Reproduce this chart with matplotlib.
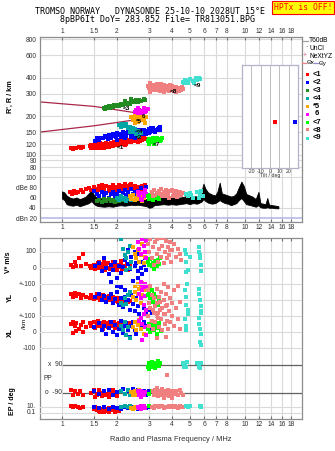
import matplotlib
matplotlib.use("Agg")
import matplotlib.pyplot as plt
from matplotlib.lines import Line2D
from matplotlib.ticker import FixedLocator, NullLocator, FixedFormatter

plt.rcParams['font.family'] = ['Liberation Sans', 'DejaVu Sans']

# ---------------- data ----------------
FREQ_TICKS = [1, 1.5, 2, 3, 4, 5, 6, 7, 8, 10, 12, 14, 16, 18]
FREQ_LABELS = ["1", "1.5", "2", "3", "4", "5", "6", "7", "8", "10", "12", "14", "16", "18"]
HEIGHT_TICKS = [80, 90, 100, 120, 150, 200, 300, 400, 600, 800]
DB_TICKS = [100, 80, 60, 40, 20]
DB_LABELS = ["100", "dBe 80", "60", "40", "dBn 20"]
TILT_TICKS = [-20, -10, 0, 10, 20]
COLORS = ['#ff0000', '#0000ff', '#228b22', '#00a6a6', '#ffa500',
          '#ff00ff', '#00ff00', '#f08080', '#40e0d0']
LEGEND_LABELS = ["<1", "<2", "<3", "<4", "*5", " 6", "<7", "<8", "<9"]

# model lines (freq MHz, height km)
MODEL_UPPER = [(0.758, 258), (1.5, 238), (2.6, 211)]
MODEL_LOWER = [(0.758, 150), (1.5, 168), (2.45, 186)]

# cluster label positions (freq, height)
LABEL_POS = [(2.08, 113), (2.62, 136), (2.25, 228), (2.65, 152), (2.65, 183),
             (2.8, 200), (3.3, 120), (4.05, 312), (5.5, 345)]

# tilt (deg, height km, cluster index)
TILT = [(5, 180, 0), (27, 180, 1)]

# --- heights (freq, km)
C1_H = [(1.12,112),(1.15,111),(1.18,113),(1.2,112),(1.24,114),(1.27,113),(1.3,115),
        (1.42,116),(1.45,113),(1.48,119),(1.5,115),(1.52,121),(1.55,117),(1.58,113),(1.6,119),
        (1.62,123),(1.65,116),(1.68,114),(1.7,120),(1.72,118),(1.75,124),(1.78,115),(1.8,119),
        (1.83,122),(1.86,117),(1.9,121),(1.93,125),(1.96,118),(2.0,123),(2.03,127),(2.06,120),
        (2.1,125),(2.14,129),(2.18,123),(2.22,127),(2.26,131),(2.3,125),(2.35,129),(2.4,133),
        (2.45,127),(2.5,131),(2.55,134),(2.6,129),(2.65,133),(2.7,136),(2.75,130),(2.8,134),
        (2.85,132),(1.5,112),(1.6,114),(1.7,113),(1.8,114),(1.9,116),(2.0,118),(1.55,122),
        (1.65,121),(1.75,120),(1.85,124),(1.95,126),(2.1,121),(2.2,124),(2.3,128),(2.4,127),
        (2.5,128),(2.2,119),(2.6,126),(1.62,117),(1.72,116),(1.82,118),(1.92,119),
        (1.44,118),(1.47,116),(1.53,114),(1.57,120),(1.63,112),(1.67,119),(1.73,122),(1.77,117),
        (1.87,120),(1.97,122),(2.02,119),(2.08,124),(2.12,127),(2.16,126),(2.24,122),(2.28,129),
        (2.33,131),(2.38,126),(2.43,130),(2.48,133),(2.53,127),(2.58,132),(2.63,130),(2.68,128),
        (2.72,134),(2.78,132)]
C2_H = [(1.52,128),(1.55,134),(1.6,131),(1.68,136),(1.75,138),(1.8,142),(1.85,136),(1.9,145),
        (1.95,140),(2.0,148),(2.05,143),(2.1,138),(2.15,150),(2.2,145),(2.25,141),(2.3,152),
        (2.35,147),(2.4,140),(2.45,150),(2.5,144),(2.55,155),(2.6,148),(2.65,142),(2.7,152),
        (2.75,146),(2.8,156),(2.85,150),(2.9,145),(2.95,153),(3.0,158),(3.05,149),(3.1,155),
        (3.15,160),(3.2,152),(3.3,157),(3.4,162),(3.45,155),(2.4,137),(2.5,136),(2.6,139),
        (2.2,134),(2.0,131),(1.62,135),(1.72,140),(1.78,133),(1.88,141),(1.98,137),(2.08,146),
        (2.18,140),(2.28,147),(2.38,144),(2.48,153),(2.58,146),(2.68,157),(2.78,149),(2.88,154),
        (2.98,147),(3.08,160),(3.18,156),(3.25,150),(3.35,159),(3.42,165)]
C3_H = [(1.7,232),(1.72,228),(1.75,235),(1.78,230),(1.8,238),(1.83,233),(1.86,240),(1.9,236),
        (1.93,243),(1.96,238),(2.0,245),(2.05,241),(2.1,248),(2.15,244),(2.2,252),(2.25,247),
        (2.3,255),(2.35,250),(2.4,258),(2.45,262),(2.5,256),(2.55,265),(2.6,259),(2.65,268),
        (2.7,262),(2.8,272),(2.85,266),(2.2,262),(2.4,270)]
C4_H = [(2.05,170),(2.1,165),(2.12,175),(2.18,168),(2.25,172),(2.3,160),(2.35,165),(2.4,155),
        (2.45,150),(2.5,158),(2.55,146),(2.6,152),(2.65,140),(2.7,148),(2.35,150),(2.45,162)]
C5_H = [(2.4,195),(2.45,185),(2.5,200),(2.55,190),(2.6,180),(2.65,195),(2.7,185),(2.75,200),
        (2.8,190),(2.85,178),(2.9,195),(2.5,178),(2.6,205)]
C6_H = [(2.5,215),(2.55,222),(2.6,212),(2.65,225),(2.7,218),(2.75,210),(2.8,225),(2.85,215),
        (2.9,220),(2.95,228),(2.6,230),(2.8,232)]
C7_H = [(2.95,128),(3.0,132),(3.05,125),(3.1,130),(3.15,134),(3.2,127),(3.25,131),(3.3,136),
        (3.35,129),(3.4,133),(3.45,127),(3.5,131),(3.55,135),(3.0,122),(3.2,121)]
C8_H = [(2.95,345),(3.0,330),(3.05,360),(3.1,340),(3.15,325),(3.2,350),(3.25,335),(3.3,320),
        (3.35,345),(3.4,330),(3.45,315),(3.5,340),(3.55,325),(3.6,350),(3.65,335),(3.7,318),
        (3.75,340),(3.8,328),(3.85,312),(3.9,335),(3.95,322),(4.0,345),(4.05,330),(4.1,315),
        (4.2,338),(4.3,322),(4.4,332),(4.5,318),(4.6,328),(3.05,310),(3.3,355),(3.6,310),
        (3.9,352),(4.2,310),(3.02,350),(3.12,332),(3.22,340),(3.32,330),(3.42,348),(3.52,322),
        (3.62,338),(3.72,345),(3.82,318),(3.92,326),(4.02,338),(4.12,325),(4.25,330),(4.35,316),
        (4.45,325),(4.55,335),(3.18,318),(3.48,355)]
C9_H = [(4.6,372),(4.7,385),(4.8,378),(4.9,365),(5.0,390),(5.2,375),(5.4,395),(5.5,380),
        (5.6,400),(5.7,388),(4.65,360),(5.3,362)]

# --- echo amplitude (freq, dB)
C1_DB = [(1.1,70),(1.13,67),(1.16,72),(1.2,68),(1.23,71),(1.27,74),(1.3,70),(1.35,76),(1.4,78),
         (1.45,74),(1.5,80),(1.55,77),(1.6,82),(1.65,79),(1.7,75),(1.75,83),(1.8,80),(1.85,77),
         (1.9,84),(1.95,81),(2.0,78),(2.05,85),(2.1,82),(2.15,79),(2.2,86),(2.25,83),(2.3,80),
         (2.35,84),(2.4,81),(2.45,78),(2.5,82),(2.55,79),(2.6,76),(2.65,80),(2.7,77),(2.75,82),
         (2.8,79),(2.85,84),(1.6,74),(1.7,72),(1.8,73),(1.9,76),(2.0,72),(2.1,75),(2.2,77),
         (2.3,73),(2.5,74),(1.55,71),(1.65,85),(2.4,86)]
C2_DB = [(1.5,72),(1.55,66),(1.6,62),(1.65,70),(1.7,64),(1.75,68),(1.8,60),(1.85,66),(1.9,70),
         (1.95,63),(2.0,67),(2.05,72),(2.1,61),(2.15,68),(2.2,74),(2.25,65),(2.3,70),(2.35,62),
         (2.4,76),(2.45,67),(2.5,71),(2.55,64),(2.6,73),(2.65,66),(2.7,78),(2.75,69),(2.8,63),
         (2.85,72),(2.9,80)]
C3_DB = [(1.6,55),(1.65,52),(1.7,57),(1.75,53),(1.8,58),(1.85,54),(1.9,56),(1.95,51),(2.0,57),
         (2.05,53),(2.1,59),(2.15,55),(1.55,53)]
C4_DB = [(2.0,60),(2.05,55),(2.1,62),(2.15,57),(2.2,60),(2.25,54),(2.3,58),(2.35,62),(2.4,56)]
C5_DB = [(2.35,62),(2.4,58),(2.45,64),(2.5,55),(2.55,60),(2.6,66),(2.65,57),(2.7,62),(2.75,54),(2.8,59)]
C6_DB = [(2.6,70),(2.65,64),(2.7,58),(2.75,68),(2.8,62),(2.85,74),(2.75,55),(2.9,66)]
C7_DB = [(2.95,62),(3.0,58),(3.05,65),(3.1,60),(3.15,56),(3.2,63),(3.25,59),(3.3,66),(3.35,61),(3.4,57)]
C8_DB = [(3.1,70),(3.2,74),(3.3,68),(3.4,72),(3.5,76),(3.6,70),(3.7,74),(3.8,66),(3.9,72),(4.0,75),
         (4.1,69),(4.2,73),(4.3,67),(4.4,71),(4.5,64),(4.6,68),(3.25,64),(3.45,66),(3.65,62),
         (3.85,60),(4.05,63),(4.25,61),(3.15,62),(3.55,63)]
C9_DB = [(4.8,66),(4.9,62),(5.0,68),(5.1,64),(5.2,60),(5.5,70),(5.7,66),(5.8,72),(5.9,63),(5.6,60)]

# unclassified amplitude band (freq, low dB, high dB)
BAND_F = [1.0,1.03,1.06,1.1,1.15,1.2,1.25,1.3,1.35,1.4,1.45,1.5,1.55,1.6,1.7,1.8,1.9,2.0,2.1,2.2,
          2.3,2.4,2.5,2.6,2.7,2.8,2.9,3.0,3.1,3.2,3.4,3.6,3.8,4.0,4.2,4.4,4.6,4.8,5.0,5.2,5.5,5.8,
          5.95,6.1,6.3,6.6,6.9,7.1,7.3,7.5,7.8,8.1,8.4,8.7,9.0,9.3,9.6,9.9,10.2,10.5,11.0,11.5,
          11.9,12.2,12.6,13.0,13.3,13.6,14.2,14.8,15.3]
BAND_LO = [58,55,47,45,44,46,43,45,47,49,53,47,44,43,42,43,42,44,45,44,
           45,46,45,46,45,44,43,40,41,45,46,47,46,47,46,47,48,49,47,49,48,52,
           57,53,50,48,49,52,55,52,49,48,45,47,49,55,59,53,47,46,44,42,
           45,41,40,40,41,40,40,39,39]
BAND_HI = [72,70,64,60,58,60,57,59,62,68,74,64,60,59,58,59,57,59,60,59,
           60,60,59,60,59,58,57,54,55,59,60,60,59,60,59,60,61,63,61,63,62,72,
           87,77,70,66,64,72,89,68,66,64,62,63,68,80,91,82,67,65,62,57,
           71,49,48,47,59,46,45,44,43]

# --- V* (freq, m/s)
C1_V = [(1.12,20),(1.15,5),(1.18,40),(1.2,10),(1.24,60),(1.27,15),(1.3,90),(1.35,25),(1.42,10),
        (1.45,0),(1.5,20),(1.52,-5),(1.55,15),(1.58,30),(1.6,0),(1.62,12),(1.65,-8),(1.68,22),
        (1.7,5),(1.72,-10),(1.75,18),(1.78,30),(1.8,2),(1.83,-5),(1.86,15),(1.9,25),(1.93,0),
        (1.96,10),(2.0,-12),(2.03,20),(2.06,5),(2.1,30),(2.14,-5),(2.18,15),(2.22,0),(2.26,25),
        (2.3,-10),(2.35,10),(2.1,45),(1.9,40),(1.6,35),(1.7,45)]
C2_V = [(1.52,10),(1.6,30),(1.65,-20),(1.7,60),(1.75,0),(1.8,-40),(1.85,20),(1.9,-10),(1.95,40),
        (2.0,-60),(2.05,15),(2.1,-30),(2.15,5),(2.2,50),(2.25,-15),(2.3,25),(2.35,-5),(2.4,70),
        (2.45,-80),(2.5,10),(2.55,30),(2.6,-20),(2.65,90),(2.7,0),(2.75,-40),(2.8,20),(2.85,60),
        (2.9,-10),(2.0,-110),(2.1,-120),(1.85,-90),(2.3,110),(2.5,100),(2.6,-60),(2.7,40)]
C3_V = []
C4_V = [(2.1,180),(2.15,120),(2.2,80),(2.25,60),(2.3,100),(2.35,140),(2.4,40),(2.25,-10),(2.35,0)]
C5_V = [(2.45,130),(2.5,90),(2.55,60),(2.6,110),(2.65,40),(2.7,80),(2.75,150),(2.8,30),(2.6,-100),
        (2.7,-120),(2.75,-95),(2.5,-110),(2.85,70)]
C6_V = [(2.6,160),(2.65,120),(2.7,90),(2.75,180),(2.8,140),(2.85,100),(2.9,60),(2.7,-90),
        (2.75,-110),(2.8,-130),(2.85,-100),(2.9,170)]
C7_V = [(2.95,40),(3.0,20),(3.05,55),(3.1,10),(3.15,30),(3.2,-5),(3.25,45),(3.3,15),(3.35,50),
        (3.4,25),(3.45,60),(3.1,65)]
C8_V = [(2.95,150),(3.0,100),(3.05,180),(3.1,60),(3.15,130),(3.2,20),(3.25,160),(3.3,90),(3.35,40),
        (3.4,120),(3.45,190),(3.5,70),(3.55,140),(3.6,30),(3.65,100),(3.7,170),(3.75,60),(3.8,130),
        (3.85,80),(3.9,160),(3.95,40),(4.0,110),(4.1,150),(4.2,70),(4.3,120),(4.4,90),(4.5,50),
        (3.3,180),(3.6,190),(3.9,110)]
C9_V = [(4.7,110),(4.75,90),(4.8,40),(4.9,-10),(5.0,70),(5.6,130),(5.65,100),(5.7,60),(5.75,20),
        (5.8,-20),(5.7,80),(4.75,-25)]

# --- YL (freq, km)
C1_YL = [(1.12,35),(1.15,20),(1.18,45),(1.2,25),(1.24,40),(1.27,10),(1.3,30),(1.35,20),(1.42,15),
         (1.45,30),(1.5,5),(1.52,20),(1.55,35),(1.58,10),(1.6,25),(1.62,0),(1.65,15),(1.68,30),
         (1.7,5),(1.72,20),(1.75,-5),(1.78,15),(1.8,25),(1.83,0),(1.86,10),(1.9,20),(1.93,-5),
         (1.96,5),(2.0,15),(2.03,-10),(2.06,0),(2.1,10),(2.14,-5),(2.18,5),(2.22,-10),(2.26,0),
         (2.3,-15),(2.35,-5)]
C2_YL = [(1.52,20),(1.6,40),(1.65,0),(1.7,25),(1.75,-10),(1.8,15),(1.85,35),(1.9,-20),(1.95,5),
         (2.0,50),(2.05,-30),(2.1,10),(2.15,-45),(2.2,20),(2.25,-15),(2.3,0),(2.35,-60),(2.4,30),
         (2.45,-25),(2.5,-70),(2.55,10),(2.6,-40),(2.65,-85),(2.7,-20),(2.8,-50),(2.9,-75),
         (3.0,-60),(3.1,-80),(2.2,65)]
C3_YL = []
C4_YL = [(2.1,-20),(2.15,-30),(2.2,10),(2.25,-25),(2.3,30),(2.35,50)]
C5_YL = [(2.45,20),(2.5,50),(2.55,0),(2.6,40),(2.65,70),(2.7,-20),(2.75,30),(2.8,60)]
C6_YL = [(2.65,40),(2.7,10),(2.75,60),(2.8,-30),(2.85,25),(2.9,-60),(2.9,80)]
C7_YL = [(2.95,30),(3.0,50),(3.05,10),(3.1,60),(3.15,-10),(3.2,40),(3.3,20),(3.35,-30),(3.4,5)]
C8_YL = [(2.95,60),(3.0,-20),(3.05,90),(3.1,30),(3.15,-60),(3.2,10),(3.25,-40),(3.3,70),(3.35,-80),
         (3.4,20),(3.45,-10),(3.5,50),(3.55,-50),(3.6,0),(3.65,-90),(3.7,40),(3.75,-30),(3.8,80),
         (3.85,-70),(3.9,15),(4.0,-20),(4.1,60),(4.2,-50),(4.3,90),(4.4,-10),(3.3,-100),(3.6,100)]
C9_YL = [(4.7,60),(4.75,20),(4.8,-30),(4.9,-60),(5.6,70),(5.65,40),(5.7,0),(5.75,-40),(5.8,-70),(4.85,100)]

# --- XL (freq, km)
C1_XL = [(1.12,50),(1.15,65),(1.18,35),(1.2,55),(1.24,20),(1.27,45),(1.3,60),(1.35,30),(1.42,55),
         (1.45,40),(1.5,65),(1.52,25),(1.55,50),(1.58,70),(1.6,35),(1.62,55),(1.65,45),(1.68,20),
         (1.7,60),(1.72,40),(1.75,55),(1.78,30),(1.8,50),(1.83,65),(1.86,35),(1.9,45),(1.93,60),
         (1.96,25),(2.0,50),(2.03,40),(2.06,55),(2.1,30),(2.14,45),(2.18,60),(2.22,35),(2.26,50),
         (2.3,40),(2.35,55),(1.15,-5),(1.2,5),(1.3,0)]
C2_XL = [(1.5,30),(1.6,55),(1.65,10),(1.7,40),(1.75,-10),(1.8,25),(1.85,60),(1.9,0),(1.95,45),
         (2.0,-20),(2.05,20),(2.1,70),(2.15,-5),(2.2,35),(2.25,55),(2.3,10),(2.35,-30),(2.4,40),
         (2.45,65),(2.5,15),(2.55,-15),(2.6,50),(2.7,25),(2.8,60),(2.9,35),(3.0,20),(3.1,45)]
C3_XL = []
C4_XL = [(2.1,40),(2.15,10),(2.2,60),(2.25,-20),(2.3,30),(2.35,-40)]
C5_XL = [(2.45,30),(2.5,60),(2.55,10),(2.6,45),(2.65,75),(2.7,20),(2.75,50),(2.8,-10)]
C6_XL = [(2.65,70),(2.7,90),(2.75,50),(2.8,110),(2.85,30),(2.9,-20),(2.75,-50)]
C7_XL = [(2.95,20),(3.0,50),(3.05,0),(3.1,35),(3.15,65),(3.2,10),(3.25,40),(3.3,-10),(3.35,25),
         (3.4,55),(3.5,5)]
C8_XL = [(2.95,100),(3.0,40),(3.05,150),(3.1,70),(3.15,20),(3.2,120),(3.25,60),(3.3,180),(3.35,90),
         (3.4,30),(3.45,140),(3.5,80),(3.55,10),(3.6,110),(3.65,50),(3.7,160),(3.75,70),(3.8,20),
         (3.85,130),(3.9,60),(4.0,100),(4.1,40),(4.2,150),(4.3,80),(4.4,20),(3.3,-40),(3.7,-30)]
C9_XL = [(4.7,80),(4.75,40),(4.8,10),(4.9,110),(5.6,90),(5.65,50),(5.7,20),(5.75,-10),(5.8,120),
         (5.7,-60),(5.75,-80)]

# --- PP polarization (freq, deg)
C1_PP = [(1.12,-70),(1.15,-100),(1.18,-80),(1.22,-95),(1.26,-75),(1.3,-105),(1.45,-90),(1.5,-70),
         (1.55,-100),(1.6,-85),(1.65,-110),(1.7,-75),(1.75,-95),(1.8,-115),(1.85,-80),(1.9,-100),
         (1.95,-90),(2.0,-110),(1.6,-70),(1.7,-105),(1.8,-90),(1.9,-70),(1.52,-115),(1.58,-95),
         (1.68,-90),(1.78,-100)]
C2_PP = [(1.5,-75),(1.6,-95),(1.7,-80),(1.8,-70),(1.9,-100),(2.0,-85),(2.1,-75),(2.2,-95),(2.3,-80),
         (2.4,-105),(2.5,-85),(2.6,-70),(2.7,-95),(2.8,-80),(2.9,-100),(3.0,-75),(2.15,-65),(2.45,-65)]
C3_PP = []
C4_PP = [(2.1,-80),(2.2,-95),(2.3,-70),(2.35,-100)]
C5_PP = [(2.4,-85),(2.5,-75),(2.55,-100),(2.6,-90),(2.65,-70),(2.45,-105)]
C6_PP = [(2.6,-80),(2.65,-100),(2.7,-75),(2.75,-90),(2.8,-105),(2.85,-85),(2.7,-115)]
C7_PP = [(2.95,80),(3.0,100),(3.05,75),(3.1,110),(3.15,90),(3.2,105),(3.25,70),(3.3,95),(3.35,115),
         (3.4,85),(3.45,100),(3.0,65),(3.2,80),(3.0,-95),(3.1,-80)]
C8_PP = [(3.15,-80),(3.2,-100),(3.25,-70),(3.3,-90),(3.35,-110),(3.4,-85),(3.45,-75),(3.5,-100),
         (3.55,-65),(3.6,-90),(3.65,-105),(3.7,-80),(3.75,-95),(3.8,-70),(3.85,-110),(3.9,-85),
         (3.95,-100),(4.0,-75),(4.1,-95),(4.2,-80),(4.3,-105),(4.4,-70),(4.5,-90),(4.6,-100),
         (3.3,-60),(3.6,-120),(4.0,-120),(3.75,25)]
C9_PP = [(4.6,100),(4.65,80),(4.7,95),(4.75,75),(4.85,110),(5.5,105),(5.6,80),(5.65,95),(5.7,70),(5.8,100)]

# --- EP (freq, deg)
C1_EP = [(1.12,15),(1.15,8),(1.18,20),(1.22,10),(1.26,5),(1.3,12),(1.5,3),(1.55,1),(1.6,0.5),
         (1.65,2),(1.7,0.3),(1.75,1.5),(1.8,0.4),(1.85,2),(1.9,0.8),(1.95,0.3),(2.0,1.2),(1.6,5),
         (1.7,8),(1.8,6),(1.9,4),(1.52,10),(1.62,0.2),(1.72,0.6),(1.82,0.25),(2.05,0.5)]
C2_EP = [(1.5,8),(1.6,4),(1.7,10),(1.8,3),(1.9,7),(2.0,5),(2.1,2),(2.2,8),(2.3,4),(2.4,10),(2.5,6),
         (2.6,3),(2.7,9),(2.8,5),(2.9,4),(3.0,7)]
C3_EP = []
C4_EP = [(2.1,10),(2.2,15),(2.3,8),(2.35,20)]
C5_EP = [(2.4,6),(2.5,12),(2.55,4),(2.6,8),(2.65,14),(2.45,3)]
C6_EP = [(2.6,10),(2.65,5),(2.7,15),(2.75,7),(2.8,20),(2.85,4),(2.7,2)]
C7_EP = [(3.0,15),(3.1,10)]
C8_EP = [(3.1,12),(3.2,6),(3.3,15),(3.4,8),(3.5,20),(3.6,5),(3.7,10),(3.8,14),(3.9,7),(4.0,18),
         (4.1,9),(4.2,12),(4.3,6),(4.4,15),(4.5,8),(4.6,11),(3.25,25),(3.55,25),(3.85,25),(4.15,25)]
C9_EP = [(4.8,20),(4.9,10),(5.0,15),(5.7,30),(5.8,25),(5.75,12)]

H_SETS = [C1_H, C2_H, C3_H, C4_H, C5_H, C6_H, C7_H, C8_H, C9_H]
DB_SETS = [C1_DB, C2_DB, C3_DB, C4_DB, C5_DB, C6_DB, C7_DB, C8_DB, C9_DB]
V_SETS = [C1_V, C2_V, C3_V, C4_V, C5_V, C6_V, C7_V, C8_V, C9_V]
YL_SETS = [C1_YL, C2_YL, C3_YL, C4_YL, C5_YL, C6_YL, C7_YL, C8_YL, C9_YL]
XL_SETS = [C1_XL, C2_XL, C3_XL, C4_XL, C5_XL, C6_XL, C7_XL, C8_XL, C9_XL]
PP_SETS = [C1_PP, C2_PP, C3_PP, C4_PP, C5_PP, C6_PP, C7_PP, C8_PP, C9_PP]
EP_SETS = [C1_EP, C2_EP, C3_EP, C4_EP, C5_EP, C6_EP, C7_EP, C8_EP, C9_EP]

# ---------------- layout ----------------
W, H = 335, 451
fig = plt.figure(figsize=(W / 100, H / 100), dpi=100)
F_MIN, F_MAX = 0.758, 20.6
MS = 2.4
GRID = '#dadada'
SPINE = '#8c8c8c'
TXT = '#303030'
TFS = 4.8


def rect(x0, y0, x1, y1):
    return [x0 / W, 1 - y1 / H, (x1 - x0) / W, (y1 - y0) / H]


def ftext(x, y, s, **kw):
    fig.text(x / W, 1 - y / H, s, **kw)


def fline(x0, x1, y, color, lw=0.9):
    fig.add_artist(Line2D([x0 / W, x1 / W], [1 - y / H, 1 - y / H], color=color, lw=lw,
                          transform=fig.transFigure))


def freq_axis(ax):
    ax.set_xscale('log')
    ax.set_xlim(F_MIN, F_MAX)
    ax.xaxis.set_major_locator(FixedLocator(FREQ_TICKS))
    ax.xaxis.set_minor_locator(NullLocator())
    ax.xaxis.set_major_formatter(FixedFormatter(FREQ_LABELS))


def style_spines(ax, sides):
    for s in ['left', 'right', 'top', 'bottom']:
        ax.spines[s].set_visible(s in sides)
        ax.spines[s].set_color(SPINE)
        ax.spines[s].set_linewidth(0.9)


def scatter(ax, data, color, **kw):
    if not data:
        return
    f, v = zip(*data)
    ax.plot(f, v, ls='none', marker='s', ms=MS, mew=0, color=color, antialiased=False, **kw)


def overlay(ax_ref):
    a = fig.add_axes(ax_ref.get_position())
    a.set_facecolor('none')
    freq_axis(a)
    a.axis('off')
    return a


# ---------- title ----------
ftext(150, 12, "TROMSO NORWAY   DYNASONDE 25-10-10 2028UT 15°E", ha='center', va='center',
      fontsize=6.0, family='DejaVu Sans Mono', color='black')
ftext(157, 20, "8pBP6It DoY= 283.852 File= TR813051.BPG", ha='center', va='center',
      fontsize=6.0, family='DejaVu Sans Mono', color='black')
ftext(303, 7.5, "HPTx is OFF!", ha='center', va='center', fontsize=5.8, family='DejaVu Sans Mono',
      color='#ff0000', bbox=dict(boxstyle='square,pad=0.25', fc='#ffff00', ec='#ff0000', lw=0.8))

# ---------- height panel ----------
axh = fig.add_axes(rect(40, 37, 302, 170))
freq_axis(axh)
axh.set_yscale('log')
axh.set_ylim(75.8, 830)
axh.yaxis.set_major_locator(FixedLocator(HEIGHT_TICKS))
axh.yaxis.set_minor_locator(NullLocator())
axh.yaxis.set_major_formatter(FixedFormatter([str(t) for t in HEIGHT_TICKS]))
axh.xaxis.set_ticks_position('top')
axh.tick_params(axis='x', which='both', top=True, bottom=False, labeltop=True, labelbottom=False,
                length=2.5, direction='in', color='#707070', pad=1.2, labelsize=TFS, labelcolor=TXT)
axh.tick_params(axis='y', length=0, pad=2.5, labelsize=TFS, labelcolor=TXT)
style_spines(axh, ['left', 'right', 'top'])
for t in FREQ_TICKS:
    axh.axvline(t, color=GRID, lw=0.8, zorder=0)
for t in HEIGHT_TICKS:
    axh.axhline(t, color=GRID, lw=0.8, zorder=0)

for line in (MODEL_UPPER, MODEL_LOWER):
    f, h = zip(*line)
    axh.plot(f, h, color='#a8284a', lw=0.9, zorder=2)
for data, c in zip(H_SETS, COLORS):
    scatter(axh, data, c, zorder=3)
for (f, h), lab in zip(LABEL_POS, LEGEND_LABELS):
    axh.text(f, h, lab.strip(), fontsize=4.6, fontweight='bold', color='black', ha='center',
             va='center', zorder=4)
axh.set_ylabel("R', R / km", fontsize=5.2, fontweight='bold', labelpad=3)
axh.yaxis.set_label_coords(-0.1, 0.55)

# ---------- amplitude panel ----------
axd = fig.add_axes(rect(40, 170, 302, 222))
freq_axis(axd)
axd.set_facecolor('none')
axd.set_ylim(12.2, 113.7)
axd.set_yticks(DB_TICKS)
axd.set_yticklabels(DB_LABELS)
axd.tick_params(axis='y', length=0, pad=2.5, labelsize=TFS, labelcolor=TXT)
axd.tick_params(axis='x', length=2.5, direction='in', color='#707070', pad=1.5, labelsize=TFS,
                labelcolor=TXT)
style_spines(axd, ['left', 'right', 'bottom'])
for t in FREQ_TICKS:
    axd.axvline(t, color=GRID, lw=0.8, zorder=0)
for t in (100, 40):
    axd.axhline(t, color=GRID, lw=0.8, zorder=0)
axd.axhline(20, color='#b4b4e6', lw=1.1, zorder=0)
axd.fill_between(BAND_F, BAND_LO, BAND_HI, color='black', lw=0.6, edgecolor='black', zorder=2)
for data, c in zip(DB_SETS, COLORS):
    scatter(axd, data, c, zorder=3)

# tilt inset (drawn above the amplitude panel)
axt = fig.add_axes(rect(242, 65, 298, 168))
axt.set_zorder(10)
axt.set_xlim(-30, 30)
axt.set_yscale('log')
axt.set_ylim(78.5, 501)
axt.yaxis.set_major_locator(NullLocator())
axt.yaxis.set_minor_locator(NullLocator())
axt.set_xticks(TILT_TICKS)
axt.set_xticklabels([str(t) for t in TILT_TICKS])
axt.tick_params(axis='x', length=0, pad=0.8, labelsize=3.8, labelcolor=TXT)
for s in axt.spines.values():
    s.set_color('#b4b4c8')
    s.set_linewidth(0.9)
for t in TILT_TICKS:
    axt.axvline(t, color='#bdbdbd', lw=0.7, zorder=0)
for tilt, h, ci in TILT:
    axt.plot([tilt], [h], ls='none', marker='s', ms=2.4, mew=0, color=COLORS[ci], antialiased=False)
axt.set_xlabel("Tilt / deg", fontsize=3.8, labelpad=-0.5, color=TXT)

# ---------- parameter panel ----------
axb = fig.add_axes(rect(40, 238, 302, 419))
freq_axis(axb)
axb.set_ylim(419, 238)
axb.set_yticks([])
axb.tick_params(axis='x', length=2.5, direction='in', color='#707070', pad=1.5, labelsize=TFS,
                labelcolor=TXT, top=True)
style_spines(axb, ['left', 'right', 'top', 'bottom'])
for t in FREQ_TICKS:
    axb.axvline(t, color=GRID, lw=0.8, zorder=0)
axb.set_xlabel("Radio and Plasma Frequency / MHz", fontsize=5.4, labelpad=6, color=TXT)

# V*: 16 px per 100 m/s, zero at y=268 ; YL zero at 300 ; XL zero at 332
axv = overlay(axb)
axv.set_ylim((268 - 419) / 0.16, (268 - 238) / 0.16)
axyl = overlay(axb)
axyl.set_ylim((300 - 419) / 0.16, (300 - 238) / 0.16)
axxl = overlay(axb)
axxl.set_ylim((332 - 419) / 0.16, (332 - 238) / 0.16)
axpp = overlay(axb)
axpp.set_ylim((379 - 419) / 0.1556, (379 - 238) / 0.1556)
axep = overlay(axb)
axep.set_yscale('log')
axep.set_ylim(10 ** (1 - (419 - 407) / 3), 10 ** (1 + (407 - 238) / 3))

for ax, vals in ((axv, (100, 0)), (axyl, (100, 0)), (axxl, (100, 0, -100))):
    for v in vals:
        ax.axhline(v, color=GRID, lw=0.8, zorder=0)
for v in (10, 0.1):
    axep.axhline(v, color=GRID, lw=0.8, zorder=0)
for v in (90, -90):
    axpp.axhline(v, xmin=(63 - 40) / 262, xmax=1, color='#606060', lw=0.9, zorder=1)

for sets, ax in ((V_SETS, axv), (YL_SETS, axyl), (XL_SETS, axxl), (PP_SETS, axpp), (EP_SETS, axep)):
    for data, c in zip(sets, COLORS):
        scatter(ax, data, c, zorder=3)

# y tick labels of the parameter panel
for y, s in ((252, "100"), (268, "0"), (284, "+-100"), (300, "0"), (316, "+-100"), (332, "0"),
             (348, "-100"), (407, "10."), (413, "0.1")):
    ftext(36, y, s, ha='right', va='center', fontsize=TFS, color=TXT)
for y, s in ((365, "x  90"), (393, "o  -90")):
    ftext(62, y, s, ha='right', va='center', fontsize=TFS, color=TXT)
ftext(43, 379, "PP", ha='left', va='center', fontsize=TFS, color=TXT)
ftext(8, 262, "V* m/s", rotation=90, ha='center', va='center', fontsize=5.0, fontweight='bold')
ftext(10, 298, "YL", rotation=90, ha='center', va='center', fontsize=5.0, fontweight='bold')
ftext(24, 324, "/km", rotation=90, ha='center', va='center', fontsize=4.6)
ftext(10, 333, "XL", rotation=90, ha='center', va='center', fontsize=5.0, fontweight='bold')
ftext(12, 401, "EP / deg", rotation=90, ha='center', va='center', fontsize=5.0, fontweight='bold')

# ---------- legend ----------
LFS = 4.8
fline(303, 308, 41, '#a0a0a0')
ftext(309, 41, "T60dB", ha='left', va='center', fontsize=LFS)
ftext(305, 48, "\u00b7", ha='left', va='center', fontsize=LFS)
ftext(309, 48, "UnCl", ha='left', va='center', fontsize=LFS)
ftext(303, 56, "+", ha='left', va='center', fontsize=LFS, color='#e06080')
ftext(309, 56, "NeXtYZ", ha='left', va='center', fontsize=LFS)
fline(302, 306, 63, '#f08080')
ftext(306.5, 63, "\u0398x", ha='left', va='center', fontsize=4.4)
fline(314, 318, 63, '#9090d0')
ftext(318.5, 63, "\u0398y", ha='left', va='center', fontsize=4.4)
for i, (c, lab) in enumerate(zip(COLORS, LEGEND_LABELS)):
    y = 74 + 8 * i
    fig.patches.append(plt.Rectangle((306 / W, 1 - (y + 1.5) / H), 3 / W, 3 / H,
                                     transform=fig.transFigure, color=c, lw=0))
    ftext(313, y, lab, ha='left', va='center', fontsize=5.4, fontweight='bold')

fig.savefig("out.png", dpi=100)
